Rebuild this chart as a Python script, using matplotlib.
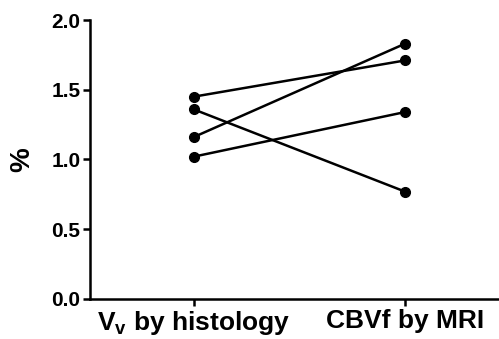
import matplotlib
matplotlib.use("Agg")
import matplotlib.pyplot as plt
import numpy as np

plt.rcParams['font.family'] = ['Liberation Sans', 'DejaVu Sans']

categories = ["V$_\\mathregular{v}$ by histology", "CBVf by MRI"]
histology = [1.45, 1.36, 1.16, 1.02]
mri = [1.71, 0.77, 1.83, 1.34]
yticks = [0.0, 0.5, 1.0, 1.5, 2.0]


def plot_pairs():
	fig = plt.figure(figsize=(4.99, 3.39), dpi=100)
	ax = fig.add_axes([0.181, 0.118, 0.817, 0.823])

	x = np.arange(len(categories))
	for i in range(len(histology)):
		ax.plot(x, [histology[i], mri[i]], color='k', lw=1.8,
				marker='o', markersize=7, clip_on=False)

	ax.set_xlim(-0.488, 1.44)
	ax.set_ylim(0, 2.0)
	ax.set_yticks(yticks)
	ax.set_yticklabels(["%.1f" % v for v in yticks], fontsize=15, fontweight='bold')
	ax.set_xticks(x)
	ax.set_xticklabels(categories, fontsize=19, fontweight='bold')
	ax.set_ylabel("%", fontsize=20, fontweight='bold', labelpad=12)

	for side in ['top', 'right']:
		ax.spines[side].set_visible(False)
	for side in ['left', 'bottom']:
		ax.spines[side].set_linewidth(1.8)
	ax.tick_params(width=1.8, length=5, pad=2)

	fig.savefig("out.png", dpi=100)


if __name__ == '__main__':
	plot_pairs()
